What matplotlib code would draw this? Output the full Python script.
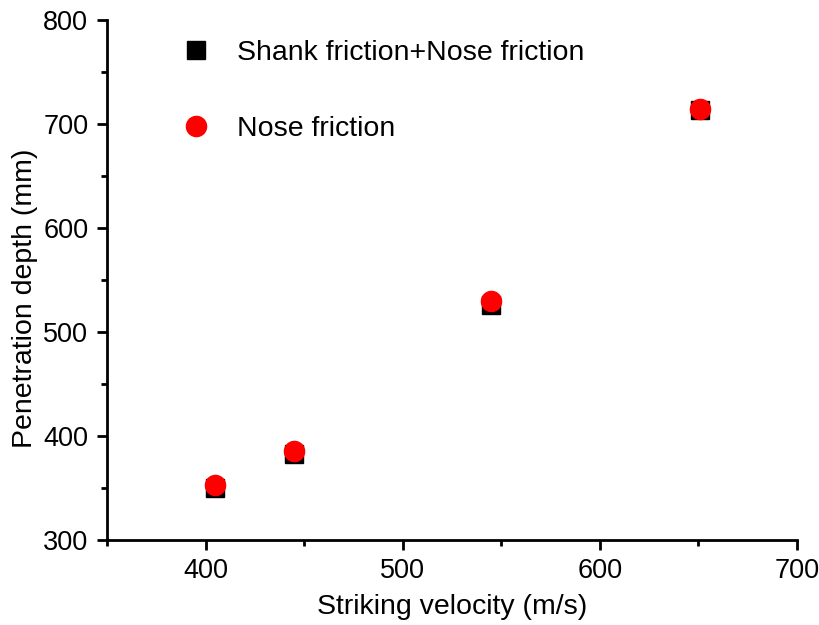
import matplotlib.pyplot as plt
from matplotlib.ticker import MultipleLocator

plt.rcParams['font.family'] = ['Liberation Sans', 'DejaVu Sans']

velocity = [405, 445, 545, 651]
depthShankNose = [350, 383, 526, 713]
depthNose = [353, 386, 530, 714]

fig = plt.figure(figsize=(8.2, 6.25), dpi=100)
ax = fig.add_axes([0.1305, 0.136, 0.8415, 0.832])

ax.plot(velocity, depthShankNose, linestyle='none', marker='s', markersize=13,
        color='black', label='Shank friction+Nose friction')
ax.plot(velocity, depthNose, linestyle='none', marker='o', markersize=14.5,
        color='red', label='Nose friction')

ax.set_xlim(350, 700)
ax.set_ylim(300, 800)
ax.xaxis.set_major_locator(MultipleLocator(100))
ax.xaxis.set_minor_locator(MultipleLocator(50))
ax.yaxis.set_major_locator(MultipleLocator(100))
ax.yaxis.set_minor_locator(MultipleLocator(50))

for side in ['top', 'right']:
    ax.spines[side].set_visible(False)
for side in ['left', 'bottom']:
    ax.spines[side].set_linewidth(2)

ax.tick_params(which='major', direction='out', length=7, width=2, labelsize=19.5)
ax.tick_params(axis='x', which='major', pad=6)
ax.tick_params(axis='y', which='major', pad=6.5)
ax.tick_params(which='minor', direction='out', length=4, width=2)

ax.set_xlabel('Striking velocity (m/s)', fontsize=20.5, labelpad=7)
ax.set_ylabel('Penetration depth (mm)', fontsize=20.5)
ax.yaxis.set_label_coords(-0.1, 0.465)

ax.legend(loc='upper left', bbox_to_anchor=(0.05, 1.01), frameon=False,
          fontsize=20.5, labelspacing=1.75, handletextpad=0.45, numpoints=1)

fig.savefig('out.png', dpi=100)
